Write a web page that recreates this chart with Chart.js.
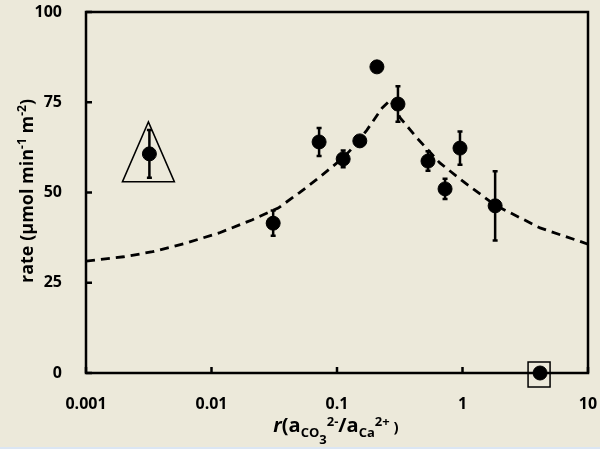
<!DOCTYPE html>
<html>
<head>
<meta charset="utf-8">
<script src="https://cdn.jsdelivr.net/npm/chart.js@4.4.1/dist/chart.umd.min.js"></script>
<style>
  html, body { margin: 0; padding: 0; background: #ece9da; }
  #wrap { width: 600px; height: 449px; position: relative; }
</style>
</head>
<body>
<div id="wrap"><canvas id="rateChart" width="600" height="449"></canvas></div>
<script>
// tick values and labels
const xTicks = [0.001, 0.01, 0.1, 1, 10];
const xTickLabels = ['0.001', '0.01', '0.1', '1', '10'];
const yTicks = [0, 25, 50, 75, 100];

// measured rates
const rValues = [0.0032, 0.031, 0.072, 0.112, 0.152, 0.208, 0.306, 0.531, 0.726, 0.955, 1.82, 4.15];
const rates = [60.7, 41.5, 64.0, 59.3, 64.3, 84.8, 74.5, 58.7, 51.0, 62.3, 46.3, 0];
const rateErrors = [6.6, 3.5, 3.9, 2.3, 0, 0, 4.9, 2.7, 2.8, 4.6, 9.6, 0];

// model curve (dashed)
const fitR = [0.001, 0.002, 0.0034, 0.0063, 0.0115, 0.021, 0.034, 0.05, 0.073, 0.112, 0.14, 0.173, 0.229, 0.266, 0.32, 0.434, 0.66, 1, 1.82, 4.15, 10];
const fitRate = [31.0, 32.2, 33.6, 36.0, 38.8, 42.4, 45.7, 49.9, 54.3, 59.6, 63.2, 67.3, 73.4, 75.6, 70.6, 65.1, 58.2, 53.2, 46.5, 40.2, 35.7];

// which points get a frame around them
const trianglePoint = 0;
const squarePoint = 11;

Chart.defaults.font.family = "'Open Sans', sans-serif";
Chart.defaults.font.weight = 'bold';
Chart.defaults.font.size = 16;
Chart.defaults.color = '#000';

// draw a run of text pieces; sup / sub pieces are smaller and shifted
function drawRich(ctx, parts, x, y) {
    let total = 0;
    parts.forEach(p => {
        ctx.font = `${p.italic ? 'italic ' : ''}bold ${p.size}px 'Open Sans', sans-serif`;
        p.w = ctx.measureText(p.t).width;
        total += p.w;
    });
    let cx = x - total / 2;
    parts.forEach(p => {
        ctx.font = `${p.italic ? 'italic ' : ''}bold ${p.size}px 'Open Sans', sans-serif`;
        ctx.fillText(p.t, cx, y + (p.dy || 0));
        cx += p.w;
    });
}

const decorPlugin = {
    id: 'decor',
    beforeDraw(chart) {
        const ctx = chart.ctx;
        ctx.save();
        ctx.fillStyle = '#ece9da';
        ctx.fillRect(0, 0, chart.width, chart.height);
        ctx.fillStyle = '#dbe6f3';
        ctx.fillRect(0, 447, chart.width, 2);
        ctx.restore();
    },
    afterDatasetsDraw(chart) {
        const ctx = chart.ctx;
        const xs = chart.scales.x, ys = chart.scales.y;
        const a = chart.chartArea;
        ctx.save();
        ctx.strokeStyle = '#000';

        // error bars
        ctx.lineWidth = 2.5;
        rValues.forEach((r, i) => {
            if (!rateErrors[i]) return;
            const px = xs.getPixelForValue(r);
            const top = ys.getPixelForValue(rates[i] + rateErrors[i]);
            const bot = ys.getPixelForValue(rates[i] - rateErrors[i]);
            ctx.beginPath();
            ctx.moveTo(px, top); ctx.lineTo(px, bot);
            ctx.moveTo(px - 2.5, top); ctx.lineTo(px + 2.5, top);
            ctx.moveTo(px - 2.5, bot); ctx.lineTo(px + 2.5, bot);
            ctx.stroke();
        });

        // triangle and square frames
        ctx.lineWidth = 1.5;
        let px = xs.getPixelForValue(rValues[trianglePoint]);
        let py = ys.getPixelForValue(rates[trianglePoint]);
        ctx.beginPath();
        ctx.moveTo(px - 1, py - 32);
        ctx.lineTo(px + 25, py + 28);
        ctx.lineTo(px - 27, py + 28);
        ctx.closePath();
        ctx.stroke();

        px = xs.getPixelForValue(rValues[squarePoint]);
        py = ys.getPixelForValue(rates[squarePoint]);
        ctx.strokeRect(px - 12, py - 11, 22, 25);

        // plot frame and inside ticks
        ctx.lineWidth = 2.5;
        ctx.strokeRect(a.left, a.top, a.right - a.left, a.bottom - a.top);
        ctx.beginPath();
        yTicks.forEach(v => {
            const y = ys.getPixelForValue(v);
            ctx.moveTo(a.left, y); ctx.lineTo(a.left + 6, y);
        });
        xTicks.forEach(v => {
            const x = xs.getPixelForValue(v);
            ctx.moveTo(x, a.bottom); ctx.lineTo(x, a.bottom - 6);
        });
        ctx.stroke();

        // axis titles
        ctx.fillStyle = '#000';
        ctx.textBaseline = 'alphabetic';
        ctx.textAlign = 'left';
        drawRich(ctx, [
            {t: 'r', size: 20, italic: true},
            {t: '(a', size: 20},
            {t: 'CO', size: 13, dy: 5},
            {t: '3', size: 13, dy: 12},
            {t: '2-', size: 13, dy: -6},
            {t: '/a', size: 20},
            {t: 'Ca', size: 13, dy: 5},
            {t: '2+', size: 13, dy: -6},
            {t: ' )', size: 15}
        ], 336, 432);

        ctx.translate(33, 191);
        ctx.rotate(-Math.PI / 2);
        drawRich(ctx, [
            {t: 'rate (μmol min', size: 18},
            {t: '-1', size: 12, dy: -7},
            {t: ' m', size: 18},
            {t: '-2', size: 12, dy: -7},
            {t: ')', size: 18}
        ], 0, 0);
        ctx.restore();
    }
};

new Chart(document.getElementById('rateChart'), {
    type: 'scatter',
    data: {
        datasets: [
            {
                label: 'measured',
                data: rValues.map((r, i) => ({x: r, y: rates[i]})),
                backgroundColor: '#000',
                borderColor: '#000',
                pointRadius: 7,
                pointHoverRadius: 7,
                clip: false,
                order: 1
            },
            {
                label: 'model',
                type: 'line',
                data: fitR.map((r, i) => ({x: r, y: fitRate[i]})),
                borderColor: '#000',
                borderWidth: 2.8,
                borderDash: [9, 6],
                pointRadius: 0,
                fill: false,
                tension: 0,
                order: 2
            }
        ]
    },
    options: {
        responsive: false,
        animation: false,
        events: [],
        layout: { padding: 0 },
        plugins: { legend: { display: false }, tooltip: { enabled: false } },
        scales: {
            x: {
                type: 'logarithmic',
                min: 0.001,
                max: 10,
                grid: { display: false },
                border: { display: false },
                afterBuildTicks: s => { s.ticks = xTicks.map(v => ({value: v})); },
                afterFit: s => {
                    s.height = 76;
                    s.paddingLeft = 0;
                    s.paddingRight = 12;
                },
                ticks: {
                    padding: 14,
                    maxRotation: 0,
                    autoSkip: false,
                    callback: (v, i) => xTickLabels[i]
                }
            },
            y: {
                min: 0,
                max: 100,
                grid: { display: false },
                border: { display: false },
                afterBuildTicks: s => { s.ticks = yTicks.map(v => ({value: v})); },
                afterFit: s => {
                    s.width = 86;
                    s.paddingTop = 12;
                    s.paddingBottom = 0;
                },
                ticks: { padding: 16 }
            }
        }
    },
    plugins: [decorPlugin]
});
</script>
</body>
</html>
